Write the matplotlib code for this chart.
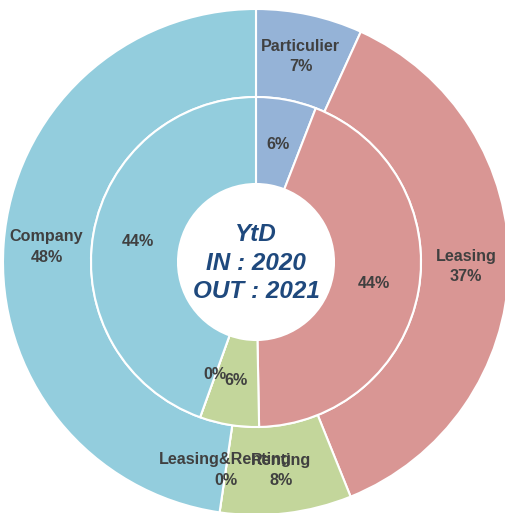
import numpy as np
import matplotlib
matplotlib.use('Agg')
import matplotlib.pyplot as plt

# Category names and shares
categories = ['Particulier', 'Leasing', 'Renting', 'Leasing&Renting', 'Company']
outer_vals = [6.8, 37.1, 8.4, 0.0, 47.7]     # OUT : 2021
inner_vals = [5.9, 43.8, 5.8, 0.0, 44.5]     # IN : 2020
outer_labels = ['7%', '37%', '8%', '0%', '48%']
inner_labels = ['6%', '44%', '6%', '0%', '44%']
colors = ['#95B3D7', '#D99694', '#C3D69B', '#B3A2C7', '#93CDDD']
center_text = 'YtD\nIN : 2020\nOUT : 2021'

plt.rcParams['font.family'] = ['Liberation Sans', 'DejaVu Sans']

fig = plt.figure(figsize=(5.05, 5.13), dpi=100)
ax = fig.add_axes([0, 0, 1, 1])

cx, cy = 256, 513 - 262
r_out = 253
r_mid = 165
r_in = 78

wp = dict(edgecolor='white', linewidth=1.5)
w_out, _ = ax.pie(outer_vals, colors=colors, radius=r_out, center=(cx, cy),
                  startangle=90, counterclock=False,
                  wedgeprops=dict(width=r_out - r_mid, **wp), frame=True)
w_in, _ = ax.pie(inner_vals, colors=colors, radius=r_mid, center=(cx, cy),
                 startangle=90, counterclock=False,
                 wedgeprops=dict(width=r_mid - r_in, **wp), frame=True)

txt_kw = dict(ha='center', va='center', fontsize=11.6, fontweight='bold',
              color='#404040')

for w, name, lab in zip(w_out, categories, outer_labels):
    ang = np.deg2rad((w.theta1 + w.theta2) / 2)
    r = 0.83 * r_out
    ax.text(cx + r * np.cos(ang), cy + r * np.sin(ang), name + '\n' + lab,
            linespacing=1.45, **txt_kw)

for w, lab in zip(w_in, inner_labels):
    ang = np.deg2rad((w.theta1 + w.theta2) / 2)
    r = 120
    ax.text(cx + r * np.cos(ang), cy + r * np.sin(ang), lab, **txt_kw)

ax.text(cx, cy - 1, center_text, ha='center', va='center', fontsize=17.5,
        style='italic', fontweight='bold', color='#1F497D', linespacing=1.3)

ax.set_xlim(0, 505)
ax.set_ylim(0, 513)
ax.set_aspect('auto')
ax.axis('off')

fig.savefig('out.png', dpi=100, facecolor='white')
